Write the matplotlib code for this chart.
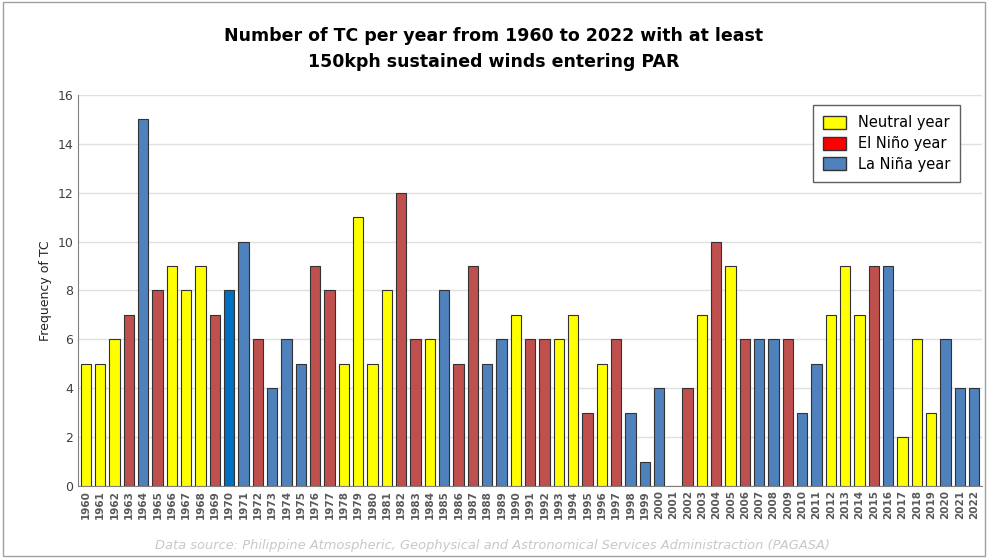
import numpy as np
import matplotlib.pyplot as plt
from matplotlib.patches import Patch, Rectangle

years = list(range(1960, 2023))
counts = [5, 5, 6, 7, 15, 8, 9, 8, 9, 7,
          8, 10, 6, 4, 6, 5, 9, 8, 5, 11,
          5, 8, 12, 6, 6, 8, 5, 9, 5, 6,
          7, 6, 6, 6, 7, 3, 5, 6, 3, 1,
          4, 0, 4, 7, 10, 9, 6, 6, 6, 6,
          3, 5, 7, 9, 7, 9, 9, 2, 6, 3,
          6, 4, 4]
# N = neutral, E = El Nino, L = La Nina, D = La Nina (darker shade used for 1970)
phase = ['N', 'N', 'N', 'E', 'L', 'E', 'N', 'N', 'N', 'E',
         'D', 'L', 'E', 'L', 'L', 'L', 'E', 'E', 'N', 'N',
         'N', 'N', 'E', 'E', 'N', 'L', 'E', 'E', 'L', 'L',
         'N', 'E', 'E', 'N', 'N', 'E', 'N', 'E', 'L', 'L',
         'L', 'N', 'E', 'N', 'E', 'N', 'E', 'L', 'L', 'E',
         'L', 'L', 'N', 'N', 'N', 'E', 'L', 'N', 'N', 'N',
         'L', 'L', 'L']

colors = {'N': '#FFFF00', 'E': '#C0504D', 'L': '#4F81BD', 'D': '#0070C0'}

fig = plt.figure(figsize=(9.88, 5.58), dpi=100)
fig.patches.append(Rectangle((0.003, 0.003), 0.994, 0.994, transform=fig.transFigure,
                             fill=False, edgecolor='#A0A0A0', linewidth=1))
ax = fig.add_axes([0.079, 0.129, 0.915, 0.701])

x = np.arange(len(years))
ax.bar(x, counts, width=0.72, color=[colors[p] for p in phase],
       edgecolor='#333333', linewidth=0.8, zorder=3)

ax.set_xlim(-0.55, len(years) - 0.45)
ax.set_ylim(0, 16)
ax.set_yticks(range(0, 17, 2))
ax.set_xticks(x)
ax.set_xticklabels([str(y) for y in years], rotation=90, fontsize=7.5,
                   color='#595959', fontweight='bold')
ax.tick_params(axis='y', labelsize=9, colors='#404040', length=0)
ax.tick_params(axis='x', length=0, pad=3)
ax.grid(axis='y', color='#E0E0E0', linewidth=1, zorder=0)
for s in ['top', 'right']:
    ax.spines[s].set_visible(False)
ax.spines['left'].set_color('#808080')
ax.spines['bottom'].set_color('#808080')
ax.set_ylabel('Frequency of TC', fontsize=9, color='#222222')

fig.text(0.5, 0.935, 'Number of TC per year from 1960 to 2022 with at least',
         ha='center', va='center', fontsize=12.5, fontweight='bold')
fig.text(0.5, 0.888, '150kph sustained winds entering PAR',
         ha='center', va='center', fontsize=12.5, fontweight='bold')
fig.text(0.498, 0.022, 'Data source: Philippine Atmospheric, Geophysical and Astronomical Services Administraction (PAGASA)',
         ha='center', va='center', fontsize=9.4, style='italic', color='#C8C8C8')

handles = [Patch(facecolor='#FFFF00', edgecolor='#333333', label='Neutral year'),
           Patch(facecolor='#FF0000', edgecolor='#333333', label='El Niño year'),
           Patch(facecolor='#4F81BD', edgecolor='#333333', label='La Niña year')]
leg = ax.legend(handles=handles, loc='upper right', bbox_to_anchor=(0.976, 0.974),
                borderaxespad=0, fontsize=10.5, fancybox=False, edgecolor='#606060',
                framealpha=1, handlelength=1.6, handleheight=1.0, labelspacing=0.4,
                borderpad=0.7)
leg.get_frame().set_linewidth(1)

plt.savefig('out.png', dpi=100)
